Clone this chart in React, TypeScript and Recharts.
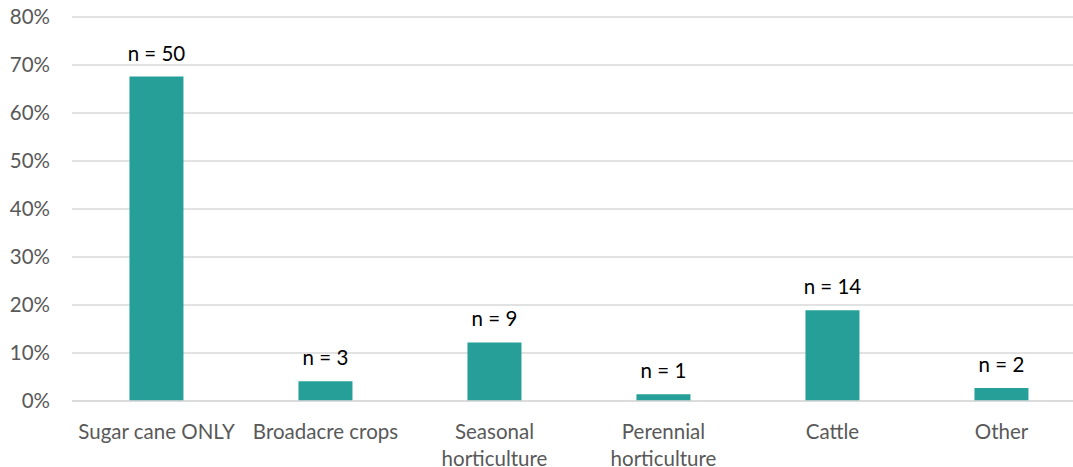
import { Bar, BarChart, CartesianGrid, LabelList, XAxis, YAxis } from "recharts";

const categories = [
  "Sugar cane ONLY",
  "Broadacre crops",
  "Seasonal\nhorticulture",
  "Perennial\nhorticulture",
  "Cattle",
  "Other",
];
const counts = [50, 3, 9, 1, 14, 2];
const shares = [67.6, 4.1, 12.2, 1.4, 18.9, 2.7];
const yTicks = [0, 10, 20, 30, 40, 50, 60, 70, 80];

const data = categories.map((name, i) => ({
  name,
  share: shares[i],
  label: `n = ${counts[i]}`,
}));

const FONT = "Lato, 'Open Sans', sans-serif";
const FONT_SIZE = 20.5;
const AXIS_TEXT = "#595959";
const TEAL = "#279F99";

function CategoryTick({ x, y, payload }: any) {
  const lines = String(payload.value).split("\n");
  return (
    <text
      x={x}
      y={y}
      textAnchor="middle"
      fill={AXIS_TEXT}
      fontSize={FONT_SIZE}
      fontFamily={FONT}
    >
      {lines.map((line, i) => (
        <tspan key={i} x={x} dy={i === 0 ? 36 : 26.5}>
          {line}
        </tspan>
      ))}
    </text>
  );
}

export default function App() {
  return (
    <div style={{ position: "absolute", left: 0, top: 0, width: 1073, height: 467, overflow: "hidden", background: "#fff" }}>
      <BarChart
        width={1090}
        height={467}
        data={data}
        margin={{ top: 17, right: 4, bottom: 0, left: 0 }}
        barCategoryGap="34%"
      >
        <CartesianGrid stroke="#D9D9D9" strokeWidth={1.3} vertical={false} />
        <XAxis
          dataKey="name"
          axisLine={{ stroke: "#D9D9D9", strokeWidth: 1.3 }}
          tickLine={false}
          tickSize={0}
          interval={0}
          height={66}
          tick={<CategoryTick />}
        />
        <YAxis
          width={72}
          domain={[0, 80]}
          ticks={yTicks}
          axisLine={false}
          tickLine={false}
          tickSize={0}
          tickMargin={22}
          tickFormatter={(v: number) => `${v}%`}
          tick={{ fill: AXIS_TEXT, fontSize: FONT_SIZE, fontFamily: FONT }}
        />
        <Bar dataKey="share" fill={TEAL} isAnimationActive={false}>
          <LabelList
            dataKey="label"
            position="top"
            offset={16}
            fill="#000"
            fontSize={FONT_SIZE}
            fontFamily={FONT}
          />
        </Bar>
      </BarChart>
    </div>
  );
}
